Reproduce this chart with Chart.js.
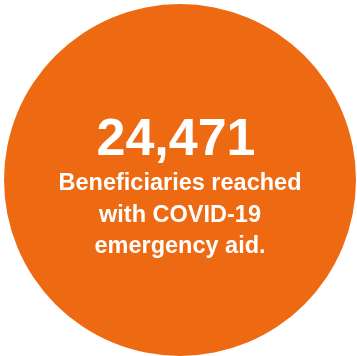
<!DOCTYPE html>
<html>
<head>
<meta charset="utf-8">
<script src="https://cdn.jsdelivr.net/npm/chart.js@4"></script>
<style>
  html, body { margin: 0; padding: 0; background: #ffffff; }
  #wrap { position: absolute; left: 4px; top: 4px; width: 352px; height: 352px; }
</style>
</head>
<body>
<div id="wrap"><canvas id="bubble"></canvas></div>
<script>
// Single figure shown inside an orange circle
const labels = ["Beneficiaries reached with COVID-19 emergency aid."];
const values = [24471];
const textLines = ["Beneficiaries reached", "with COVID-19", "emergency aid."];

// Draw the headline number and caption in the middle of the circle
const centerText = {
  id: "centerText",
  afterDraw(chart) {
    const ctx = chart.ctx;
    const cx = (chart.chartArea.left + chart.chartArea.right) / 2;
    ctx.save();
    ctx.fillStyle = "#ffffff";
    ctx.textAlign = "center";
    ctx.textBaseline = "alphabetic";
    ctx.font = "bold 52px 'Liberation Sans', Arial, sans-serif";
    ctx.fillText(values[0].toLocaleString("en-US"), cx - 4, 151);
    ctx.font = "bold 23.5px 'Liberation Sans', Arial, sans-serif";
    const baselines = [186, 218, 249];
    textLines.forEach((line, i) => ctx.fillText(line, cx, baselines[i]));
    ctx.restore();
  }
};

new Chart(document.getElementById("bubble"), {
  type: "pie",
  data: {
    labels: labels,
    datasets: [{
      data: values,
      backgroundColor: ["#ED6A12"],
      borderWidth: 0
    }]
  },
  options: {
    responsive: true,
    maintainAspectRatio: false,
    animation: false,
    events: [],
    layout: { padding: 0 },
    plugins: {
      legend: { display: false },
      tooltip: { enabled: false }
    }
  },
  plugins: [centerText]
});
</script>
</body>
</html>
